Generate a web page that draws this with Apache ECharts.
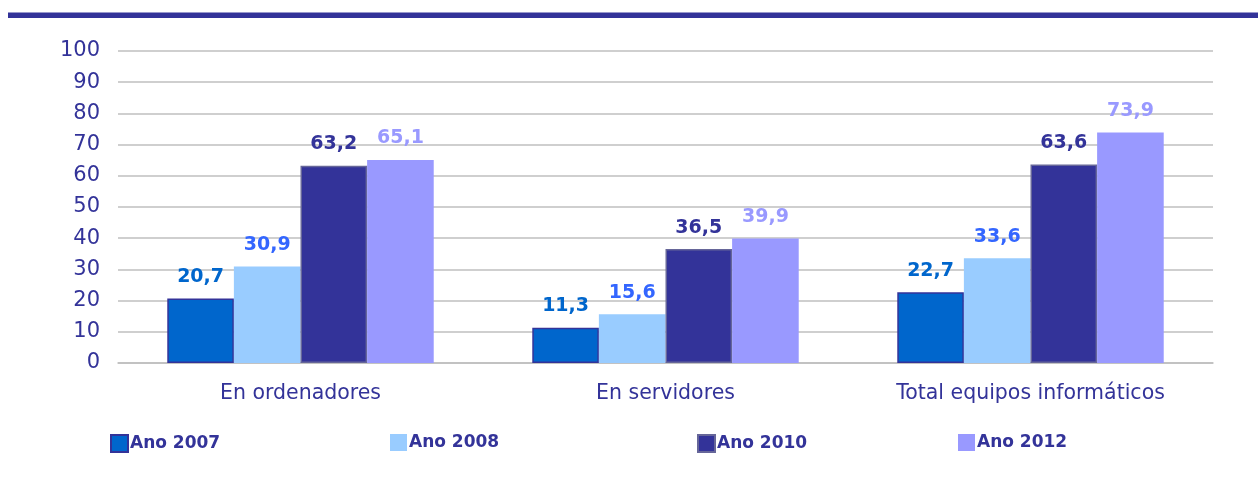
<!DOCTYPE html>
<html>
<head>
<meta charset="utf-8">
<script src="https://cdn.jsdelivr.net/npm/echarts@6/dist/echarts.min.js"></script>
<style>
  html, body { margin: 0; padding: 0; background: #fff; }
  #chart { width: 1258px; height: 477px; }
</style>
</head>
<body>
<div id="chart"></div>
<script>
  // datos
  const categorias = ['En ordenadores', 'En servidores', 'Total equipos informáticos'];
  const anos = ['Ano 2007', 'Ano 2008', 'Ano 2010', 'Ano 2012'];
  const ano2007 = [20.7, 11.3, 22.7];
  const ano2008 = [30.9, 15.6, 33.6];
  const ano2010 = [63.2, 36.5, 63.6];
  const ano2012 = [65.1, 39.9, 73.9];

  const valores = [ano2007, ano2008, ano2010, ano2012];
  const colores = ['#0066CC', '#99CCFF', '#333399', '#9999FF'];
  const bordes = ['#333399', '#99CCFF', '#666699', '#9999FF'];
  const colorEtiqueta = ['#0066CC', '#3366FF', '#333399', '#9999FF'];
  const legendX = [110, 390, 697, 958];

  const fuente = 'DejaVu Sans, Verdana, sans-serif';

  let myChart = echarts.init(document.getElementById('chart'));
  myChart.setOption({
    animation: false,
    graphic: [{
      type: 'rect',
      shape: { x: 8, y: 12.5, width: 1250, height: 5.5 },
      style: { fill: '#333399' }
    }],
    legend: anos.map((a, i) => ({
      data: [a],
      left: legendX[i],
      top: 434,
      padding: 0,
      itemWidth: 17,
      itemHeight: 17,
      icon: 'rect',
      textStyle: { color: '#333399', fontWeight: 'bold', fontSize: 17, fontFamily: fuente, padding: [0, 0, 0, -3] }
    })),
    grid: { left: 118, right: 45, top: 51, bottom: 114 },
    xAxis: {
      type: 'category',
      data: categorias,
      axisLine: { lineStyle: { color: '#BFBFBF', width: 1.5 } },
      axisTick: { show: false },
      axisLabel: { color: '#333399', fontSize: 20.5, fontFamily: fuente, margin: 20 }
    },
    yAxis: {
      type: 'value',
      min: 0,
      max: 100,
      interval: 10,
      axisLine: { show: false },
      axisTick: { show: false },
      axisLabel: { color: '#333399', fontSize: 21, fontFamily: fuente, margin: 18 },
      splitLine: { lineStyle: { color: '#BFBFBF', width: 1.5 } }
    },
    series: anos.map((a, i) => ({
      name: a,
      type: 'bar',
      data: valores[i],
      barGap: '0%',
      barCategoryGap: '27%',
      itemStyle: { color: colores[i], borderColor: bordes[i], borderWidth: (i === 0 || i === 2) ? 1.5 : 0 },
      label: {
        show: true,
        position: 'top',
        distance: 12,
        color: colorEtiqueta[i],
        fontWeight: 'bold',
        fontSize: 19,
        fontFamily: fuente,
        formatter: p => p.value.toFixed(1).replace('.', ',')
      }
    }))
  });
</script>
</body>
</html>
